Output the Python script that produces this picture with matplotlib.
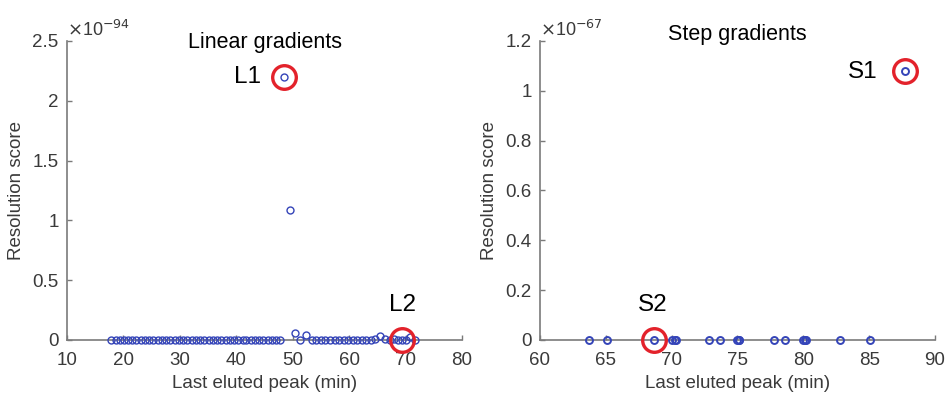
import matplotlib
matplotlib.use("Agg")
import matplotlib.pyplot as plt
from matplotlib.ticker import FuncFormatter

plt.rcParams['font.family'] = ['Liberation Sans', 'DejaVu Sans']

# linear gradients: last eluted peak (min) and resolution score (x 1e-94)
lin_time = [17.8, 18.6, 19.3, 20.1, 20.8, 21.6, 22.3, 23.1, 23.8, 24.6,
            25.3, 26.1, 26.8, 27.6, 28.3, 29.1, 29.8, 30.6, 31.3, 32.1,
            32.8, 33.6, 34.3, 35.1, 35.8, 36.6, 37.3, 38.1, 38.8, 39.6,
            40.3, 41.1, 41.8, 42.6, 43.3, 44.1, 44.8, 45.6, 46.3, 47.1,
            47.8, 48.5, 49.5, 50.4, 51.3, 52.4, 53.4, 54.2, 55.0, 55.8,
            56.6, 57.4, 58.2, 59.0, 59.8, 60.6, 61.4, 62.2, 63.0, 63.8,
            64.5, 65.5, 66.3, 67.2, 67.9, 68.7, 69.4, 70.0, 70.8, 71.7]
lin_score = [0.0] * 41 + [2.2, 1.09, 0.055, 0.003, 0.045] + [0.0] * 14 + \
            [0.012, 0.035, 0.004, 0.0, 0.005, 0.0, 0.003, 0.0, 0.025, 0.0]
lin_exp = -94

# step gradients: last eluted peak (min) and resolution score (x 1e-67)
step_time = [63.74, 65.1, 68.65, 70.05, 70.25, 70.35, 72.8, 73.7, 75.0,
             75.1, 75.15, 77.75, 78.6, 79.95, 80.1, 80.2, 82.75, 85.05, 87.7]
step_score = [0.0] * 18 + [1.08]
step_exp = -67

# highlighted runs: name, time, score, label position
lin_marks = [("L1", 48.5, 2.2, 41.9, 2.2), ("L2", 69.4, 0.0, 69.4, 0.29)]
step_marks = [("S1", 87.7, 1.08, 84.5, 1.077), ("S2", 68.65, 0.0, 68.55, 0.14)]

BLUE = '#3444b8'
RED = '#e3222b'
AXC = '#7a7a7a'
TXC = '#3a3a3a'

fig = plt.figure(figsize=(9.48, 3.93), dpi=100)
ax1 = fig.add_axes([0.0707, 0.135, 0.4167, 0.761])
ax2 = fig.add_axes([0.5696, 0.135, 0.4167, 0.761])


def style(ax, xlim, xticks, ylim, yticks, exp, title, ty):
    scale = 10.0 ** exp
    ax.set_xlim(*xlim)
    ax.set_ylim(ylim[0] * scale, ylim[1] * scale)
    ax.set_xticks(xticks)
    ax.set_yticks([v * scale for v in yticks])
    ax.yaxis.set_major_formatter(FuncFormatter(lambda v, _: f'{v / scale:g}'))
    for s in ('top', 'right'):
        ax.spines[s].set_visible(False)
    for s in ('left', 'bottom'):
        ax.spines[s].set_color(AXC)
        ax.spines[s].set_linewidth(1.2)
    ax.tick_params(direction='in', length=3.5, width=1.0, color=AXC,
                   labelsize=13.5, labelcolor=TXC)
    ax.tick_params(axis='x', pad=9)
    ax.tick_params(axis='y', pad=6)
    ax.set_xlabel("Last eluted peak (min)", fontsize=13.5, color=TXC, labelpad=4)
    ax.set_ylabel("Resolution score", fontsize=13.5, color=TXC, labelpad=5)
    ax.text(0.0, 1.037, r'$\times$10$^{%d}$' % exp, transform=ax.transAxes,
            fontsize=13, color=TXC, ha='left', va='center')
    ax.text(0.5, ty, title, transform=ax.transAxes, fontsize=15.5,
            ha='center', va='center', color='black')


def draw(ax, t, s, exp, marks, mew):
    scale = 10.0 ** exp
    ax.plot(t, [v * scale for v in s], 'o', mfc='none', mec=BLUE,
            ms=5, mew=mew, clip_on=False, zorder=3)
    for name, x, y, lx, ly in marks:
        ax.plot([x], [y * scale], 'o', mfc='none', mec=RED, ms=17,
                mew=2.4, clip_on=False, zorder=4)
        ax.text(lx, ly * scale, name, fontsize=17.5, ha='center',
                va='center', color='black')


draw(ax1, lin_time, lin_score, lin_exp, lin_marks, 1.0)
style(ax1, (10, 80), range(10, 81, 10), (0, 2.5),
      [0, 0.5, 1, 1.5, 2, 2.5], lin_exp, "Linear gradients", 0.995)

draw(ax2, step_time, step_score, step_exp, step_marks, 1.4)
style(ax2, (60, 90), range(60, 91, 5), (0, 1.2),
      [0, 0.2, 0.4, 0.6, 0.8, 1, 1.2], step_exp, "Step gradients", 1.02)

fig.savefig("out.png", dpi=100, facecolor='white')
